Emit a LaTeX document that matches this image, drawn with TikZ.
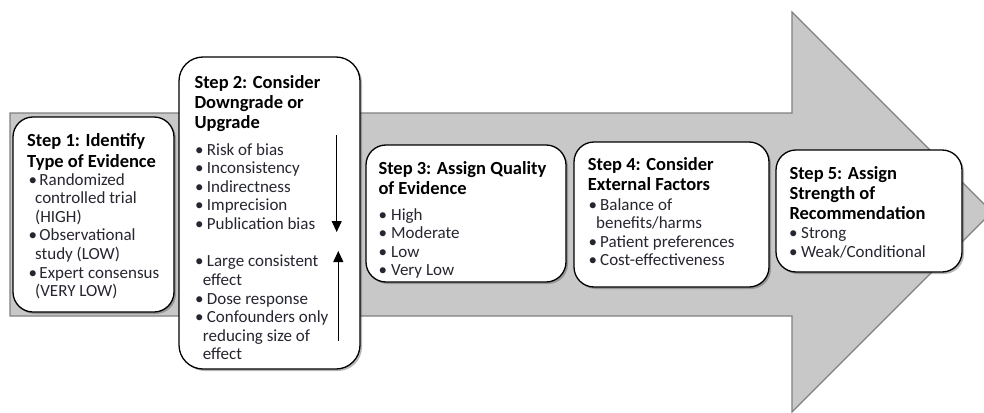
\documentclass[tikz,border=0pt]{standalone}
\usepackage{fontspec}
\setmainfont{Carlito}
\usetikzlibrary{shadows,arrows.meta}
\definecolor{arrowfill}{HTML}{C8C8C8}
\definecolor{arrowline}{HTML}{808080}
\definecolor{bodytext}{HTML}{262630}
\newcommand{\btitle}{\fontsize{18.5}{20.3}\selectfont\bfseries}
\newcommand{\bbody}{\fontsize{17}{18.65}\selectfont}
\newcommand{\bitem}[2]{\makebox[#1pt][l]{\textbullet}#2}
\newcommand{\bcont}[2]{\hspace*{#1pt}#2}
\begin{document}
\begin{tikzpicture}[x=1pt,y=-1pt,
  box/.style={draw=black, line width=1.3pt, fill=white, rounded corners=20pt,
    drop shadow={shadow xshift=2pt, shadow yshift=-2pt, opacity=0.4, fill=black!70}},
  ttl/.style={anchor=base west, inner sep=0pt, font=\btitle, text=black},
  lst/.style={anchor=base west, inner sep=0pt, font=\bbody, text=bodytext},
  updown/.style={line width=1pt, -{Triangle[width=10pt,length=11pt]}}]
\useasboundingbox (0,0) rectangle (984,412);
\clip (0,0) rectangle (984,412);
% big arrow
\draw[fill=arrowfill, draw=arrowline, line width=1.3pt]
  (10,113) -- (792,113) -- (792,12) -- (992,212) -- (792,412) -- (792,316) -- (10,316) -- cycle;
% boxes
\node[box, minimum width=161, minimum height=195] (b1) at (93.5,214.5) {};
\node[box, minimum width=181, minimum height=312, rounded corners=24pt] (b2) at (269.5,213) {};
\node[box, minimum width=200, minimum height=137] (b3) at (466,213.5) {};
\node[box, minimum width=195, minimum height=145] (b4) at (671.5,214.5) {};
\node[box, minimum width=186, minimum height=122] (b5) at (869,211) {};
% box 1
\node[ttl] (t1) at (27,146.7) {\parbox[t]{150pt}{Step 1: Identify\\Type of Evidence}};
\node[lst] (l1) at (28.5,185) {\parbox[t]{150pt}{\bitem{10.8}{Randomized}\\\bcont{6.5}{controlled trial}\\\bcont{6.5}{(HIGH)}\\\bitem{10.8}{Observational}\\\bcont{6.5}{study (LOW)}\\\bitem{10.8}{Expert consensus}\\\bcont{6.5}{(VERY LOW)}}};
% box 2
\node[ttl] (t2) at (194.3,88.3) {\parbox[t]{170pt}{Step 2: Consider\\Downgrade or\\Upgrade}};
\node[lst] (l2a) at (195,155) {\parbox[t]{170pt}{\bitem{11.7}{Risk of bias}\\\bitem{11.7}{Inconsistency}\\\bitem{11.7}{Indirectness}\\\bitem{11.7}{Imprecision}\\\bitem{11.7}{Publication bias}}};
\node[lst] (l2b) at (195,266.7) {\parbox[t]{170pt}{\bitem{11.7}{Large consistent}\\\bcont{7.7}{effect}\\\bitem{11.7}{Dose response}\\\bitem{11.7}{Confounders only}\\\bcont{7.7}{reducing size of}\\\bcont{7.7}{effect}}};
\coordinate (d1) at (336.7,135);
\coordinate (d2) at (336.7,232);
\coordinate (u1) at (338.3,341);
\coordinate (u2) at (338.3,251);
\draw[updown] (d1) -- (d2);
\draw[updown] (u1) -- (u2);
% box 3
\node[ttl] (t3) at (378.3,174.3) {\parbox[t]{190pt}{Step 3: Assign Quality\\of Evidence}};
\node[lst] (l3) at (378.3,220) {\parbox[t]{190pt}{\bitem{12.7}{High}\\\bitem{12.7}{Moderate}\\\bitem{12.7}{Low}\\\bitem{12.7}{Very Low}}};
% box 4
\node[ttl] (t4) at (587.7,170) {\parbox[t]{180pt}{Step 4: Consider\\External Factors}};
\node[lst] (l4) at (588.3,210) {\parbox[t]{180pt}{\bitem{11.7}{Balance of}\\\bcont{7.7}{benefits/harms}\\\bitem{11.7}{Patient preferences}\\\bitem{11.7}{Cost-effectiveness}}};
% box 5
\node[ttl] (t5) at (789.3,179) {\parbox[t]{170pt}{Step 5: Assign\\Strength of\\Recommendation}};
\node[lst] (l5) at (789,238.5) {\parbox[t]{170pt}{\bitem{12}{Strong}\\\bitem{12}{Weak/Conditional}}};
\end{tikzpicture}
\end{document}
